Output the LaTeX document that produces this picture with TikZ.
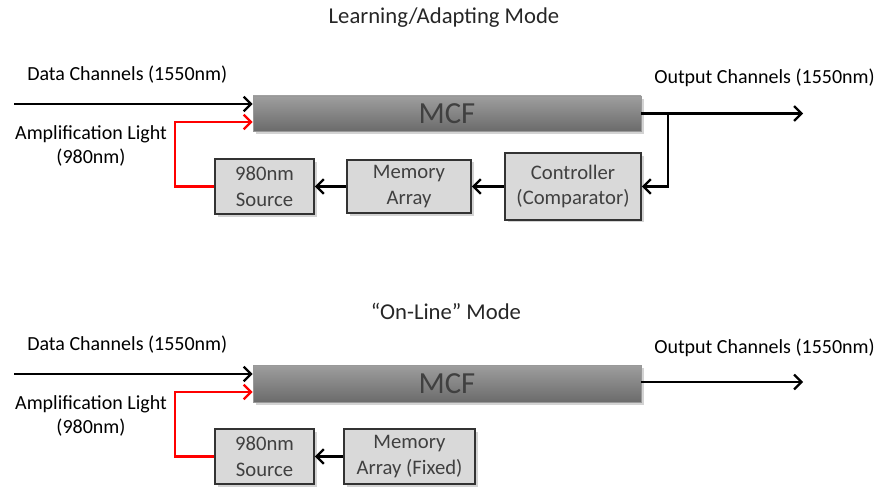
\documentclass[tikz,border=0pt]{standalone}
\usepackage{fontspec}
\setmainfont{Carlito}
\usetikzlibrary{arrows.meta,shadows}
\definecolor{boxfill}{HTML}{D9D9D9}
\definecolor{boxline}{HTML}{333333}
\definecolor{boxtext}{HTML}{404040}
\definecolor{mcftext}{HTML}{404040}
\definecolor{redline}{HTML}{FF0000}
\tikzset{
  lbl/.style={font=\fontsize{15}{18}\selectfont, text=black, inner sep=0pt},
  ttl/.style={font=\fontsize{17}{20}\selectfont, text=black!85, inner sep=0pt},
  blk/.style={draw=boxline, line width=1.4pt, fill=boxfill, text=boxtext,
     font=\fontsize{15.5}{19}\selectfont, align=center, inner sep=0pt,
     drop shadow={shadow xshift=2pt, shadow yshift=-2pt, opacity=0.35}},
  mcfbox/.style={draw=black!40, line width=0.6pt, top color=black!38, bottom color=black!58,
     text=mcftext, font=\fontsize{23}{26}\selectfont, inner sep=0pt,
     minimum width=291pt, drop shadow={shadow xshift=2pt, shadow yshift=-2.5pt, opacity=0.35}},
  conn/.style={line width=1.7pt, draw=black, -{Straight Barb[length=5.5pt,width=11pt,line width=1.7pt]}},
  rconn/.style={conn, draw=redline},
  plain/.style={line width=1.7pt, draw=black},
}
\begin{document}
\begin{tikzpicture}[x=0.75pt,y=-0.75pt]
\useasboundingbox (0,0) rectangle (877,488);
% ---------- top: learning/adapting mode
\node[ttl] (t1) at (444,18) {Learning/Adapting Mode};
\node[mcfbox, minimum height=26.25pt] (mcf1) at (447,113.5) {MCF};
\node[blk, minimum width=74.25pt, minimum height=41.25pt] (src1) at (264.5,186.5) {980nm\\Source};
\node[blk, minimum width=93pt, minimum height=40pt] (mem1) at (409,186.5) {Memory\\Array};
\node[blk, minimum width=102pt, minimum height=50pt] (ctl1) at (573,186.5) {Controller\\(Comparator)};
\node[lbl, anchor=west] (dl1) at (27,75) {Data Channels (1550nm)};
\node[lbl, align=center] (al1) at (91,146) {Amplification Light\\(980nm)};
\node[lbl, anchor=west] (ol1) at (654,78) {Output Channels (1550nm)};
\coordinate (din1) at (14,104);
\coordinate (rc1) at (175,122);
\coordinate (out1) at (803,113.5);
\coordinate (br1) at (668,113.5);
\draw[conn] (din1) -- (mcf1.west |- din1);
\draw[rconn] (src1.west) -| (rc1) -- (mcf1.west |- rc1);
\draw[conn] (mcf1.east) -- (out1);
\draw[conn] (br1) |- (ctl1.east);
\draw[conn] (ctl1.west) -- (mem1.east);
\draw[conn] (mem1.west) -- (src1.east);
% ---------- bottom: on-line mode
\node[ttl] (t2) at (446,311) {“On-Line” Mode};
\node[mcfbox, minimum height=27.75pt] (mcf2) at (447,383.5) {MCF};
\node[blk, minimum width=74.25pt, minimum height=41.25pt] (src2) at (264.5,456.5) {980nm\\Source};
\node[blk, minimum width=98.25pt, minimum height=41.25pt] (mem2) at (409.5,456.5) {Memory\\Array (Fixed)};
\node[lbl, anchor=west] (dl2) at (27,345) {Data Channels (1550nm)};
\node[lbl, align=center] (al2) at (91,416) {Amplification Light\\(980nm)};
\node[lbl, anchor=west] (ol2) at (654,348) {Output Channels (1550nm)};
\coordinate (din2) at (14,374);
\coordinate (rc2) at (175,392);
\coordinate (out2) at (803,382);
\draw[conn] (din2) -- (mcf2.west |- din2);
\draw[rconn] (src2.west) -| (rc2) -- (mcf2.west |- rc2);
\draw[conn] (mcf2.east |- out2) -- (out2);
\draw[conn] (mem2.west) -- (src2.east);
\end{tikzpicture}
\end{document}
